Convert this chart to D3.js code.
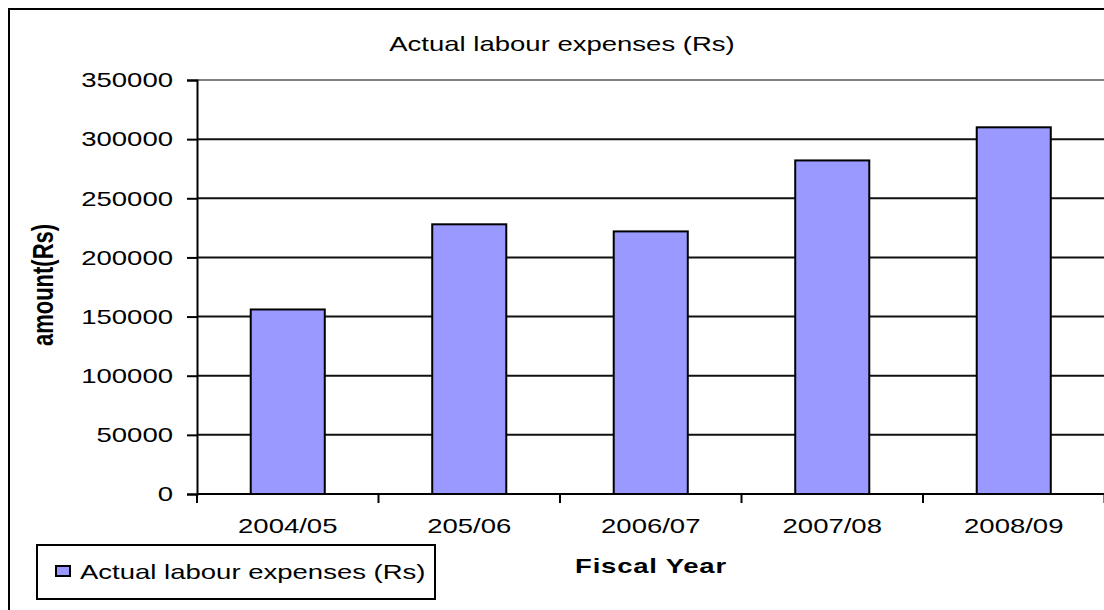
<!DOCTYPE html>
<html>
<head>
<meta charset="utf-8">
<script src="https://cdn.jsdelivr.net/npm/d3@7"></script>
<style>
  html, body { margin: 0; padding: 0; background: #fff; }
  svg { display: block; }
  text { font-family: "Liberation Sans", Arial, sans-serif; fill: #000; }
</style>
</head>
<body>
<svg id="chart" width="1104" height="610"></svg>
<script>
// Fiscal years and yearly labour spending (Rs)
const categories = ["2004/05", "205/06", "2006/07", "2007/08", "2008/09"];
const expenses = [156000, 228000, 222000, 282000, 310000];
const yTicks = [0, 50000, 100000, 150000, 200000, 250000, 300000, 350000];

const chartTitle = "Actual labour expenses (Rs)";
const seriesName = "Actual labour expenses (Rs)";
const xTitle = "Fiscal Year";
const yTitle = "amount(Rs)";

const plot = { left: 197, right: 1104.5, top: 80, bottom: 494 };
const stretch = 1.31;   // text is drawn wide, as in the original sheet export
const fontSize = 21;

const svg = d3.select("#chart");

// Outer chart frame (runs off the right and bottom edges)
svg.append("rect")
  .attr("x", 9).attr("y", 9)
  .attr("width", 1200).attr("height", 700)
  .attr("fill", "#fff").attr("stroke", "#000").attr("stroke-width", 2);

const x = d3.scaleBand()
  .domain(categories)
  .range([plot.left, plot.right])
  .paddingInner(0.592)
  .paddingOuter(0.296);

const y = d3.scaleLinear()
  .domain([0, 350000])
  .range([plot.bottom, plot.top]);

// Horizontal gridlines
svg.append("g")
  .selectAll("line")
  .data(yTicks.filter(d => d > 0))
  .join("line")
  .attr("x1", plot.left).attr("x2", plot.right)
  .attr("y1", d => y(d)).attr("y2", d => y(d))
  .attr("stroke", d => d === 350000 ? "#808080" : "#111")
  .attr("stroke-width", 2);

// Bars
svg.append("g")
  .selectAll("rect")
  .data(categories.map((c, i) => ({ c, v: expenses[i] })))
  .join("rect")
  .attr("x", d => x(d.c))
  .attr("width", x.bandwidth())
  .attr("y", d => y(d.v))
  .attr("height", d => y(0) - y(d.v))
  .attr("fill", "#9999FF")
  .attr("stroke", "#000")
  .attr("stroke-width", 2);

// Y axis
const yAxis = svg.append("g")
  .attr("transform", `translate(${plot.left},0)`)
  .call(d3.axisLeft(y).tickValues(yTicks).tickSize(10).tickPadding(14).tickFormat(d3.format("d")));
yAxis.select(".domain").attr("stroke", "#000").attr("stroke-width", 2);
yAxis.selectAll(".tick line").attr("stroke", "#000").attr("stroke-width", 2);
yAxis.selectAll(".tick text")
  .attr("font-size", fontSize)
  .attr("font-family", "Liberation Sans, Arial, sans-serif")
  .attr("fill", "#000")
  .each(function () {
    const t = d3.select(this);
    const tx = +t.attr("x");
    t.attr("x", 0).attr("transform", `translate(${tx},0) scale(${stretch},1)`);
  });

// X axis: baseline with category divider ticks
const xAxis = svg.append("g").attr("transform", `translate(0,${plot.bottom})`);
xAxis.append("line")
  .attr("x1", plot.left).attr("x2", plot.right)
  .attr("y1", 0).attr("y2", 0)
  .attr("stroke", "#000").attr("stroke-width", 2);
const step = x.step();
xAxis.selectAll("line.div")
  .data(d3.range(categories.length + 1))
  .join("line")
  .attr("class", "div")
  .attr("x1", i => plot.left + i * step).attr("x2", i => plot.left + i * step)
  .attr("y1", 0).attr("y2", 9)
  .attr("stroke", "#000").attr("stroke-width", 2);
xAxis.selectAll("text")
  .data(categories)
  .join("text")
  .attr("transform", d => `translate(${x(d) + x.bandwidth() / 2},39) scale(${stretch},1)`)
  .attr("text-anchor", "middle")
  .attr("font-size", fontSize)
  .text(d => d);

// Chart title
svg.append("text")
  .attr("transform", `translate(562,51) scale(${stretch},1)`)
  .attr("text-anchor", "middle")
  .attr("font-size", fontSize)
  .text(chartTitle);

// Axis titles
svg.append("text")
  .attr("transform", `translate(651,573) scale(${stretch},1)`)
  .attr("text-anchor", "middle")
  .attr("font-size", fontSize)
  .attr("font-weight", "bold")
  .attr("letter-spacing", 0.6)
  .text(xTitle);

svg.append("text")
  .attr("transform", `translate(53,285) scale(${stretch},1) rotate(-90)`)
  .attr("text-anchor", "middle")
  .attr("font-size", 22)
  .attr("font-weight", "bold")
  .text(yTitle);

// Legend
const legend = svg.append("g");
legend.append("rect")
  .attr("x", 37).attr("y", 545)
  .attr("width", 398).attr("height", 54)
  .attr("fill", "#fff").attr("stroke", "#000").attr("stroke-width", 2);
legend.append("rect")
  .attr("x", 56).attr("y", 566)
  .attr("width", 14).attr("height", 10)
  .attr("fill", "#9999FF").attr("stroke", "#000").attr("stroke-width", 2);
legend.append("text")
  .attr("transform", `translate(80,579) scale(${stretch},1)`)
  .attr("font-size", fontSize)
  .text(seriesName);
</script>
</body>
</html>
